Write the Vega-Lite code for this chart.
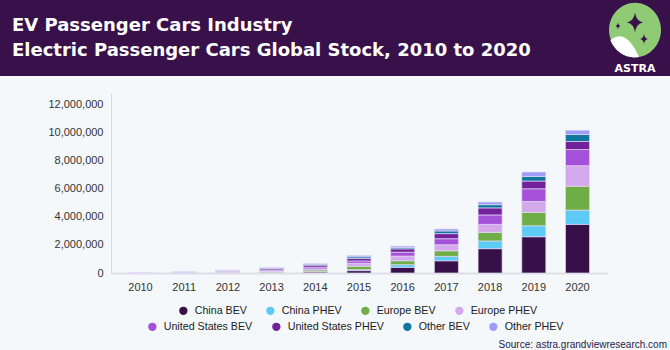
{
  "$schema": "https://vega.github.io/schema/vega-lite/v6.json",
  "background": "#f4f8fb",
  "padding": {"left": 0, "top": 0, "right": 0, "bottom": 2},
  "spacing": 17,
  "title": {
    "text": "Source: astra.grandviewresearch.com",
    "orient": "bottom",
    "anchor": "end",
    "font": "Liberation Sans",
    "fontSize": 10,
    "fontWeight": "normal",
    "color": "#2a1a45",
    "offset": 8,
    "dx": -3
  },
  "vconcat": [
    {
      "width": 559,
      "height": 76,
      "view": {"stroke": null},
      "data": {"values": [{}]},
      "layer": [
        {
          "mark": {"type": "rect", "color": "#38114a"},
          "encoding": {
            "x": {"datum": 0, "type": "quantitative", "scale": {"domain": [111, 670]}, "axis": null},
            "x2": {"datum": 670},
            "y": {"datum": 0, "type": "quantitative", "scale": {"domain": [0, 76], "reverse": true}, "axis": null},
            "y2": {"datum": 76}
          }
        },
        {
          "mark": {"type": "point", "shape": "M0,-1 A0.952,1 0 1,1 0,1 A0.952,1 0 1,1 0,-1 Z", "filled": true, "color": "#8fca74", "opacity": 1, "strokeWidth": 0, "size": 2981},
          "encoding": {
            "x": {"datum": 635, "type": "quantitative", "scale": {"domain": [111, 670]}, "axis": null},
            "y": {"datum": 30, "type": "quantitative", "scale": {"domain": [0, 76], "reverse": true}, "axis": null}
          }
        },
        {
          "mark": {"type": "point", "shape": "M-0.9,0.38 Q-0.35,-0.1 0.15,0.99 A0.952,1 0 0,1 -0.9,0.38 Z", "filled": true, "color": "#ffffff", "opacity": 1, "strokeWidth": 0, "size": 2981},
          "encoding": {
            "x": {"datum": 635, "type": "quantitative", "scale": {"domain": [111, 670]}, "axis": null},
            "y": {"datum": 30, "type": "quantitative", "scale": {"domain": [0, 76], "reverse": true}, "axis": null}
          }
        },
        {
          "mark": {"type": "point", "shape": "M0,-1 Q0.12,-0.12 0.8,0 Q0.12,0.12 0,1 Q-0.12,0.12 -0.8,0 Q-0.12,-0.12 0,-1 Z", "filled": true, "color": "#38114a", "opacity": 1, "strokeWidth": 0, "size": 400},
          "encoding": {
            "x": {"datum": 635, "type": "quantitative", "scale": {"domain": [111, 670]}, "axis": null},
            "y": {"datum": 22.5, "type": "quantitative", "scale": {"domain": [0, 76], "reverse": true}, "axis": null}
          }
        },
        {
          "mark": {"type": "point", "shape": "M0,-1 Q0.12,-0.12 0.8,0 Q0.12,0.12 0,1 Q-0.12,0.12 -0.8,0 Q-0.12,-0.12 0,-1 Z", "filled": true, "color": "#38114a", "opacity": 1, "strokeWidth": 0, "size": 40},
          "encoding": {
            "x": {"datum": 618, "type": "quantitative", "scale": {"domain": [111, 670]}, "axis": null},
            "y": {"datum": 26, "type": "quantitative", "scale": {"domain": [0, 76], "reverse": true}, "axis": null}
          }
        },
        {
          "mark": {"type": "point", "shape": "M0,-1 Q0.12,-0.12 0.8,0 Q0.12,0.12 0,1 Q-0.12,0.12 -0.8,0 Q-0.12,-0.12 0,-1 Z", "filled": true, "color": "#38114a", "opacity": 1, "strokeWidth": 0, "size": 100},
          "encoding": {
            "x": {"datum": 644, "type": "quantitative", "scale": {"domain": [111, 670]}, "axis": null},
            "y": {"datum": 39, "type": "quantitative", "scale": {"domain": [0, 76], "reverse": true}, "axis": null}
          }
        },
        {
          "mark": {"type": "text", "text": "ASTRA", "font": "DejaVu Sans", "fontWeight": "bold", "fontSize": 11, "color": "#ffffff", "align": "center", "baseline": "alphabetic"},
          "encoding": {
            "x": {"datum": 635, "type": "quantitative", "scale": {"domain": [111, 670]}, "axis": null},
            "y": {"datum": 72, "type": "quantitative", "scale": {"domain": [0, 76], "reverse": true}, "axis": null}
          }
        },
        {
          "mark": {"type": "text", "text": ["EV Passenger Cars Industry", "Electric Passenger Cars Global Stock, 2010 to 2020"], "font": "DejaVu Sans", "fontWeight": "bold", "fontSize": 18, "lineHeight": 25, "color": "#ffffff", "align": "left", "baseline": "alphabetic"},
          "encoding": {
            "x": {"datum": 12, "type": "quantitative", "scale": {"domain": [111, 670]}, "axis": null},
            "y": {"datum": 31, "type": "quantitative", "scale": {"domain": [0, 76], "reverse": true}, "axis": null}
          }
        }
      ]
    },
    {
      "width": 496,
      "height": 180,
      "view": {"stroke": null},
      "data": {
        "values": [
          {"year": "2010", "series": "China BEV", "k": 1, "value": 1600},
          {"year": "2010", "series": "China PHEV", "k": 2, "value": 200},
          {"year": "2010", "series": "Europe BEV", "k": 3, "value": 6000},
          {"year": "2010", "series": "Europe PHEV", "k": 4, "value": 300},
          {"year": "2010", "series": "United States BEV", "k": 5, "value": 2000},
          {"year": "2010", "series": "United States PHEV", "k": 6, "value": 300},
          {"year": "2010", "series": "Other BEV", "k": 7, "value": 5000},
          {"year": "2010", "series": "Other PHEV", "k": 8, "value": 1500},
          {"year": "2011", "series": "China BEV", "k": 1, "value": 6500},
          {"year": "2011", "series": "China PHEV", "k": 2, "value": 1500},
          {"year": "2011", "series": "Europe BEV", "k": 3, "value": 18000},
          {"year": "2011", "series": "Europe PHEV", "k": 4, "value": 1500},
          {"year": "2011", "series": "United States BEV", "k": 5, "value": 14000},
          {"year": "2011", "series": "United States PHEV", "k": 6, "value": 8000},
          {"year": "2011", "series": "Other BEV", "k": 7, "value": 18000},
          {"year": "2011", "series": "Other PHEV", "k": 8, "value": 3000},
          {"year": "2012", "series": "China BEV", "k": 1, "value": 16000},
          {"year": "2012", "series": "China PHEV", "k": 2, "value": 3000},
          {"year": "2012", "series": "Europe BEV", "k": 3, "value": 36000},
          {"year": "2012", "series": "Europe PHEV", "k": 4, "value": 17000},
          {"year": "2012", "series": "United States BEV", "k": 5, "value": 27000},
          {"year": "2012", "series": "United States PHEV", "k": 6, "value": 45000},
          {"year": "2012", "series": "Other BEV", "k": 7, "value": 40000},
          {"year": "2012", "series": "Other PHEV", "k": 8, "value": 10000},
          {"year": "2013", "series": "China BEV", "k": 1, "value": 32000},
          {"year": "2013", "series": "China PHEV", "k": 2, "value": 4000},
          {"year": "2013", "series": "Europe BEV", "k": 3, "value": 65000},
          {"year": "2013", "series": "Europe PHEV", "k": 4, "value": 38000},
          {"year": "2013", "series": "United States BEV", "k": 5, "value": 70000},
          {"year": "2013", "series": "United States PHEV", "k": 6, "value": 90000},
          {"year": "2013", "series": "Other BEV", "k": 7, "value": 55000},
          {"year": "2013", "series": "Other PHEV", "k": 8, "value": 25000},
          {"year": "2014", "series": "China BEV", "k": 1, "value": 75000},
          {"year": "2014", "series": "China PHEV", "k": 2, "value": 27000},
          {"year": "2014", "series": "Europe BEV", "k": 3, "value": 115000},
          {"year": "2014", "series": "Europe PHEV", "k": 4, "value": 75000},
          {"year": "2014", "series": "United States BEV", "k": 5, "value": 125000},
          {"year": "2014", "series": "United States PHEV", "k": 6, "value": 140000},
          {"year": "2014", "series": "Other BEV", "k": 7, "value": 70000},
          {"year": "2014", "series": "Other PHEV", "k": 8, "value": 35000},
          {"year": "2015", "series": "China BEV", "k": 1, "value": 170000},
          {"year": "2015", "series": "China PHEV", "k": 2, "value": 70000},
          {"year": "2015", "series": "Europe BEV", "k": 3, "value": 240000},
          {"year": "2015", "series": "Europe PHEV", "k": 4, "value": 210000},
          {"year": "2015", "series": "United States BEV", "k": 5, "value": 170000},
          {"year": "2015", "series": "United States PHEV", "k": 6, "value": 170000},
          {"year": "2015", "series": "Other BEV", "k": 7, "value": 120000},
          {"year": "2015", "series": "Other PHEV", "k": 8, "value": 90000},
          {"year": "2016", "series": "China BEV", "k": 1, "value": 400000},
          {"year": "2016", "series": "China PHEV", "k": 2, "value": 190000},
          {"year": "2016", "series": "Europe BEV", "k": 3, "value": 280000},
          {"year": "2016", "series": "Europe PHEV", "k": 4, "value": 330000},
          {"year": "2016", "series": "United States BEV", "k": 5, "value": 280000},
          {"year": "2016", "series": "United States PHEV", "k": 6, "value": 240000},
          {"year": "2016", "series": "Other BEV", "k": 7, "value": 95000},
          {"year": "2016", "series": "Other PHEV", "k": 8, "value": 95000},
          {"year": "2017", "series": "China BEV", "k": 1, "value": 870000},
          {"year": "2017", "series": "China PHEV", "k": 2, "value": 310000},
          {"year": "2017", "series": "Europe BEV", "k": 3, "value": 400000},
          {"year": "2017", "series": "Europe PHEV", "k": 4, "value": 430000},
          {"year": "2017", "series": "United States BEV", "k": 5, "value": 430000},
          {"year": "2017", "series": "United States PHEV", "k": 6, "value": 360000},
          {"year": "2017", "series": "Other BEV", "k": 7, "value": 190000},
          {"year": "2017", "series": "Other PHEV", "k": 8, "value": 140000},
          {"year": "2018", "series": "China BEV", "k": 1, "value": 1730000},
          {"year": "2018", "series": "China PHEV", "k": 2, "value": 550000},
          {"year": "2018", "series": "Europe BEV", "k": 3, "value": 610000},
          {"year": "2018", "series": "Europe PHEV", "k": 4, "value": 570000},
          {"year": "2018", "series": "United States BEV", "k": 5, "value": 670000},
          {"year": "2018", "series": "United States PHEV", "k": 6, "value": 500000},
          {"year": "2018", "series": "Other BEV", "k": 7, "value": 230000},
          {"year": "2018", "series": "Other PHEV", "k": 8, "value": 190000},
          {"year": "2019", "series": "China BEV", "k": 1, "value": 2580000},
          {"year": "2019", "series": "China PHEV", "k": 2, "value": 780000},
          {"year": "2019", "series": "Europe BEV", "k": 3, "value": 950000},
          {"year": "2019", "series": "Europe PHEV", "k": 4, "value": 780000},
          {"year": "2019", "series": "United States BEV", "k": 5, "value": 900000},
          {"year": "2019", "series": "United States PHEV", "k": 6, "value": 550000},
          {"year": "2019", "series": "Other BEV", "k": 7, "value": 330000},
          {"year": "2019", "series": "Other PHEV", "k": 8, "value": 310000},
          {"year": "2020", "series": "China BEV", "k": 1, "value": 3460000},
          {"year": "2020", "series": "China PHEV", "k": 2, "value": 1010000},
          {"year": "2020", "series": "Europe BEV", "k": 3, "value": 1700000},
          {"year": "2020", "series": "Europe PHEV", "k": 4, "value": 1460000},
          {"year": "2020", "series": "United States BEV", "k": 5, "value": 1150000},
          {"year": "2020", "series": "United States PHEV", "k": 6, "value": 570000},
          {"year": "2020", "series": "Other BEV", "k": 7, "value": 500000},
          {"year": "2020", "series": "Other PHEV", "k": 8, "value": 300000}
        ]
      },
      "encoding": {
        "x": {
          "field": "year",
          "type": "ordinal",
          "scale": {"paddingInner": 0.45, "paddingOuter": 0.4},
          "axis": {"title": null, "labelAngle": 0, "labelFont": "Liberation Sans", "labelFontSize": 11, "labelColor": "#333333", "ticks": false, "labelPadding": 8, "domainColor": "#dde0e4", "domainWidth": 2}
        },
        "y": {
          "field": "value",
          "type": "quantitative",
          "stack": "zero",
          "scale": {"domain": [0, 12800000], "nice": false},
          "axis": {"title": null, "values": [0, 2000000, 4000000, 6000000, 8000000, 10000000, 12000000], "format": ",d", "grid": false, "ticks": false, "labelOverlap": false, "labelFont": "Liberation Sans", "labelFontSize": 11, "labelColor": "#333333", "labelPadding": 8, "domainColor": "#d6d9dd"}
        }
      },
      "layer": [
        {
          "mark": {"type": "bar", "stroke": "#e2dbf3", "strokeWidth": 0.9, "strokeOpacity": 0.75},
          "encoding": {
            "color": {
              "field": "series",
              "type": "nominal",
              "scale": {
                "domain": ["China BEV", "China PHEV", "Europe BEV", "Europe PHEV", "United States BEV", "United States PHEV", "Other BEV", "Other PHEV"],
                "range": ["#37104a", "#5dcbf5", "#70ad47", "#d3a9ec", "#a550d8", "#72219a", "#11779f", "#9d9cf9"]
              },
              "legend": {"values": ["China BEV", "China PHEV", "Europe BEV", "Europe PHEV"], "title": null, "orient": "none", "legendX": 67, "legendY": 305, "direction": "horizontal"}
            },
            "order": {"field": "k", "type": "quantitative", "sort": "ascending"}
          }
        },
        {
          "transform": [{"filter": {"field": "series", "oneOf": ["United States BEV", "United States PHEV", "Other BEV", "Other PHEV"]}}],
          "mark": {"type": "point", "filled": true, "opacity": 0},
          "encoding": {
            "fill": {
              "field": "series",
              "type": "nominal",
              "scale": {
                "domain": ["United States BEV", "United States PHEV", "Other BEV", "Other PHEV"],
                "range": ["#a550d8", "#72219a", "#11779f", "#9d9cf9"]
              },
              "legend": {"title": null, "orient": "none", "legendX": 36, "legendY": 321, "direction": "horizontal"}
            }
          }
        }
      ]
    }
  ],
  "config": {
    "view": {"stroke": null},
    "legend": {
      "symbolType": "circle",
      "symbolSize": 70,
      "symbolStrokeWidth": 0,
      "symbolOpacity": 1,
      "labelFont": "Liberation Sans",
      "labelFontSize": 10.7,
      "labelColor": "#222222",
      "labelOffset": 6,
      "columnPadding": 18
    }
  }
}
